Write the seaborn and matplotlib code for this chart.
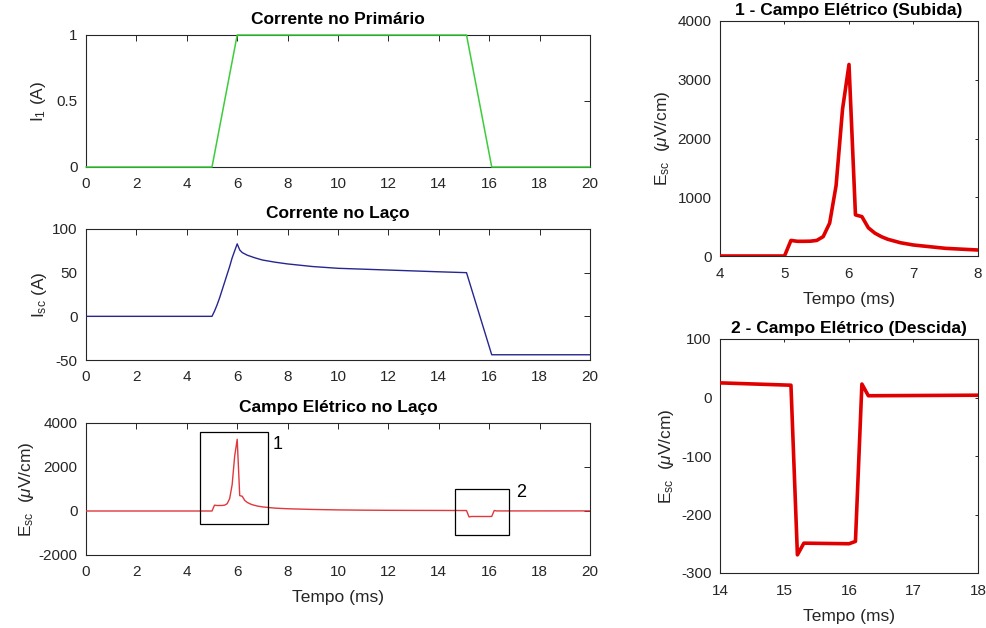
import numpy as np
import pandas as pd
import matplotlib
matplotlib.use("Agg")
import matplotlib.pyplot as plt
import seaborn as sns
from matplotlib.patches import Rectangle

# ---------------- data ----------------
t_I1 = [0, 5.0, 6.0, 15.1, 16.1, 20]
I1 = [0, 0, 1, 1, 0, 0]

t_Isc = [0, 5.0, 5.1, 5.2, 5.3, 5.4, 5.5, 5.6, 5.7, 5.8, 5.9, 6.0, 6.1, 6.2, 6.4,
         6.7, 7.0, 7.5, 8, 9, 10, 11, 12, 13, 14, 15.1, 16.1, 20]
Isc = [0, 0, 6, 13, 21, 30, 39, 48, 57, 67, 75, 83, 76, 73, 70,
       67, 64.5, 62, 60, 57, 55, 54, 53, 52, 51, 50, -44, -44]

t_E = [0, 5.0, 5.1, 5.2, 5.3, 5.4, 5.5, 5.6, 5.7, 5.8, 5.9, 6.0, 6.1, 6.2, 6.3,
       6.4, 6.5, 6.6, 6.8, 7.0, 7.5, 8.0, 9, 10, 11, 12, 13, 14, 15.1, 15.2,
       15.3, 16.0, 16.1, 16.2, 16.3, 20]
E = [0, 0, 265, 250, 250, 252, 265, 330, 560, 1200, 2500, 3260, 700, 670, 480,
     390, 330, 285, 225, 187, 130, 102, 70, 50, 38, 31, 27, 25, 21, -269,
     -249, -250, -246, 23, 3, 5]

titles = ["Corrente no Primário", "Corrente no Laço", "Campo Elétrico no Laço",
          "1 - Campo Elétrico (Subida)", "2 - Campo Elétrico (Descida)"]
xlabel = "Tempo (ms)"
ylab_I1 = r"I$_1$ (A)"
ylab_Isc = r"I$_{\rm sc}$ (A)"
ylab_E = r"E$_{\rm sc}$  ($\mu$V/cm)"

# zoom boxes: (x0, x1, y0, y1), label, label position
boxes = [((4.52, 7.22, -574, 3595), "1", (7.6, 3020)),
         ((14.65, 16.78, -1100, 980), "2", (17.26, 860))]

# ---------------- style ----------------
sns.set_style("white")
plt.rcParams["font.family"] = ["Liberation Sans", "DejaVu Sans"]
plt.rcParams["mathtext.fontset"] = "custom"
plt.rcParams["mathtext.rm"] = "Liberation Sans"
plt.rcParams["mathtext.it"] = "Liberation Sans:italic"
plt.rcParams["mathtext.bf"] = "Liberation Sans:bold"
plt.rcParams["axes.unicode_minus"] = False

GRAY = "#262626"
TICK_FS = 11
LAB_FS = 12.5
TITLE_FS = 12.5

fig = plt.figure(figsize=(9.87, 6.28), dpi=100)

W, H = 987, 628
def add_ax(x0, y0, x1, y1):
    return fig.add_axes([x0 / W, 1 - y1 / H, (x1 - x0) / W, (y1 - y0) / H])

ax1 = add_ax(86, 35, 590, 167)
ax2 = add_ax(86, 229, 590, 360)
ax3 = add_ax(86, 423, 590, 555)
ax4 = add_ax(720, 21, 978, 256)
ax5 = add_ax(720, 339, 978, 573)

def style(ax, ticklen, xpad):
    for s in ax.spines.values():
        s.set_color(GRAY)
        s.set_linewidth(0.8)
        s.set_visible(True)
        s.set_zorder(2)
    ax.tick_params(direction="in", top=True, right=True, length=ticklen,
                   width=0.7, color=GRAY, labelcolor=GRAY, labelsize=TICK_FS, pad=6)
    ax.tick_params(axis="x", pad=xpad)
    ax.set_facecolor("white")

df_I1 = pd.DataFrame({"t": t_I1, "v": I1})
df_Isc = pd.DataFrame({"t": t_Isc, "v": Isc})
df_E = pd.DataFrame({"t": t_E, "v": E})

sns.lineplot(data=df_I1, x="t", y="v", ax=ax1, color="#3ccc3c", lw=1.1,
             estimator=None, sort=False, zorder=4, clip_on=False)
sns.lineplot(data=df_Isc, x="t", y="v", ax=ax2, color="#262690", lw=1.0, estimator=None, sort=False, zorder=3)
sns.lineplot(data=df_E, x="t", y="v", ax=ax3, color="#e0383c", lw=1.0, estimator=None, sort=False, zorder=3)
sns.lineplot(data=df_E, x="t", y="v", ax=ax4, color="#e00000", lw=2.6, estimator=None, sort=False, zorder=3)
sns.lineplot(data=df_E, x="t", y="v", ax=ax5, color="#e00000", lw=2.6, estimator=None, sort=False, zorder=3)

xt = np.arange(0, 21, 2)
for ax in (ax1, ax2, ax3):
    ax.set_xlim(0, 20)
    ax.set_xticks(xt)
    ax.set_xticklabels([str(v) for v in xt])
    style(ax, 4.5, 7)

ax1.set_ylim(0, 1)
ax1.set_yticks([0, 0.5, 1])
ax1.set_yticklabels(["0", "0.5", "1"])
ax2.set_ylim(-50, 100)
ax2.set_yticks([-50, 0, 50, 100])
ax3.set_ylim(-2000, 4000)
ax3.set_yticks([-2000, 0, 2000, 4000])

ax4.set_xlim(4, 8)
ax4.set_xticks([4, 5, 6, 7, 8])
ax4.set_ylim(0, 4000)
ax4.set_yticks([0, 1000, 2000, 3000, 4000])
ax5.set_xlim(14, 18)
ax5.set_xticks([14, 15, 16, 17, 18])
ax5.set_ylim(-300, 100)
ax5.set_yticks([-300, -200, -100, 0, 100])
for ax in (ax4, ax5):
    style(ax, 2.5, 8)

for ax, title in zip((ax1, ax2, ax3), titles[:3]):
    ax.set_title(title, fontsize=TITLE_FS, fontweight="bold", color="black", pad=8)
for ax, title in zip((ax4, ax5), titles[3:]):
    ax.set_title(title, fontsize=TITLE_FS, fontweight="bold", color="black", pad=4)

ax1.set_ylabel(ylab_I1, fontsize=LAB_FS, color=GRAY, labelpad=6)
ax2.set_ylabel(ylab_Isc, fontsize=LAB_FS, color=GRAY, labelpad=2)
ax3.set_ylabel(ylab_E, fontsize=LAB_FS, color=GRAY, labelpad=2)
ax4.set_ylabel(ylab_E, fontsize=LAB_FS, color=GRAY, labelpad=4)
ax5.set_ylabel(ylab_E, fontsize=LAB_FS, color=GRAY, labelpad=4)
for ax in (ax1, ax2):
    ax.set_xlabel("")
for ax in (ax3, ax4, ax5):
    ax.set_xlabel(xlabel, fontsize=LAB_FS, color=GRAY, labelpad=8)

for (x0, x1, y0, y1), lab, (lx, ly) in boxes:
    ax3.add_patch(Rectangle((x0, y0), x1 - x0, y1 - y0, fill=False,
                            edgecolor="black", lw=0.9, zorder=5))
    ax3.text(lx, ly, lab, fontsize=13, color="black", ha="center", va="center")

fig.savefig("out.png", dpi=100, facecolor="white")
